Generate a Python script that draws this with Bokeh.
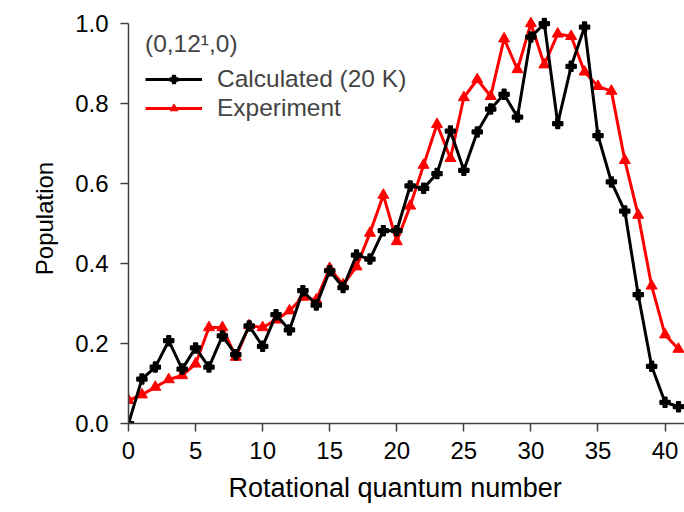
from bokeh.plotting import figure
from bokeh.models import (Range1d, Legend, LegendItem, Title, FixedTicker,
                          PrintfTickFormatter, ColumnDataSource)
from bokeh.embed import file_html
from bokeh.resources import INLINE

# Rotational quantum number
j_values = list(range(0, 42))

calculated = [0.0, 0.111, 0.141, 0.207, 0.136, 0.189, 0.141, 0.219, 0.172, 0.244,
              0.193, 0.272, 0.234, 0.332, 0.296, 0.382, 0.340, 0.421, 0.411, 0.482,
              0.482, 0.594, 0.588, 0.625, 0.731, 0.633, 0.729, 0.786, 0.823, 0.766,
              0.966, 1.0, 0.750, 0.893, 0.991, 0.720, 0.604, 0.531, 0.322, 0.143,
              0.053, 0.042]

experiment = [0.058, 0.072, 0.091, 0.110, 0.120, 0.149, 0.240, 0.240, 0.166, 0.245,
              0.240, 0.259, 0.282, 0.316, 0.309, 0.388, 0.347, 0.392, 0.476, 0.571,
              0.455, 0.544, 0.646, 0.748, 0.663, 0.815, 0.860, 0.818, 0.962, 0.885,
              1.0, 0.897, 0.974, 0.968, 0.879, 0.843, 0.831, 0.658, 0.521, 0.344,
              0.222, 0.186]

x_ticks = [0, 5, 10, 15, 20, 25, 30, 35, 40]
y_ticks = [0.0, 0.2, 0.4, 0.6, 0.8, 1.0]

FONT = "Liberation Sans"

src = ColumnDataSource(dict(j=j_values, calc=calculated, exp=experiment))

p = figure(width=684, height=512, output_backend="svg", toolbar_location=None,
           x_range=Range1d(0, 41.45), y_range=Range1d(0, 1.025),
           min_border_left=128, min_border_right=0, min_border_top=13,
           min_border_bottom=88)
p.outline_line_color = None
p.grid.visible = False
p.background_fill_color = "white"
p.border_fill_color = "white"

for ax in (p.xaxis[0], p.yaxis[0]):
    ax.axis_line_width = 1.5
    ax.axis_line_color = "#404040"
    ax.major_tick_line_width = 1.5
    ax.major_tick_line_color = "#404040"
    ax.major_tick_in = 0
    ax.major_tick_out = 8
    ax.minor_tick_in = 0
    ax.minor_tick_out = 0
    ax.major_label_text_font = FONT
    ax.major_label_text_font_size = "24px"
    ax.major_label_text_color = "black"
    ax.axis_label_text_font = FONT
    ax.axis_label_text_font_size = "24px"
    ax.axis_label_text_font_style = "normal"
    ax.axis_label_text_color = "black"

p.xaxis.ticker = FixedTicker(ticks=x_ticks)
p.yaxis.ticker = FixedTicker(ticks=y_ticks)
p.yaxis.formatter = PrintfTickFormatter(format="%.1f")
p.yaxis.bounds = (0, 1)
p.xaxis.major_label_standoff = 10
p.yaxis.major_label_standoff = 12
p.yaxis.axis_label = "Population"
p.yaxis.axis_label_standoff = 14

l_exp = p.line("j", "exp", source=src, line_color="#ff0000", line_width=3)
s_exp = p.scatter("j", "exp", source=src, marker="triangle", size=11,
                  fill_color="#ff0000", line_color="#ff0000")
l_calc = p.line("j", "calc", source=src, line_color="black", line_width=3)
s_calc = p.scatter("j", "calc", source=src, marker="plus", size=10,
                   fill_color="black", line_color="black", line_width=1.5)

legend = Legend(items=[LegendItem(label="Calculated (20 K)", renderers=[l_calc, s_calc]),
                       LegendItem(label="Experiment", renderers=[l_exp, s_exp])],
                title="(0,12\u00b9,0)", location="top_left",
                border_line_color=None, background_fill_alpha=0,
                label_text_font=FONT, label_text_font_size="24.5px",
                title_text_font=FONT, title_text_font_size="24.5px",
                title_text_font_style="normal",
                glyph_width=57, glyph_height=20, label_standoff=15,
                spacing=1, margin=17, padding=10, title_standoff=7)
p.add_layout(legend)

p.add_layout(Title(text="Rotational quantum number", align="left", offset=100,
                   text_font=FONT, text_font_size="27px", text_font_style="normal",
                   text_color="black", standoff=19), "below")

open("out.html", "w").write(file_html(p, INLINE))
